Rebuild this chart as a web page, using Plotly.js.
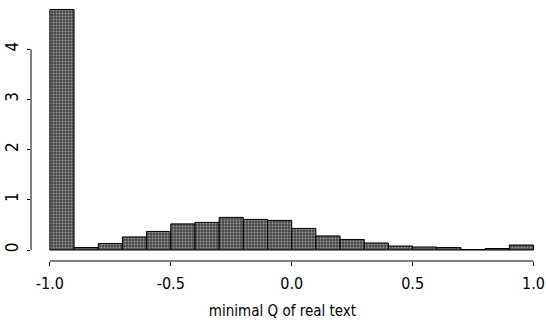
<!DOCTYPE html>
<html>
<head>
<meta charset="utf-8">
<script src="https://cdn.plot.ly/plotly-3.0.1.min.js"></script>
<style>html,body{margin:0;padding:0;background:#fff;}#chart{width:546px;height:322px;}</style>
</head>
<body>
<div id="chart"></div>
<script>
// Histogram bins of "minimal Q of real text" (bin width 0.1)
const binStarts = [-1.0,-0.9,-0.8,-0.7,-0.6,-0.5,-0.4,-0.3,-0.2,-0.1,0.0,0.1,0.2,0.3,0.4,0.5,0.6,0.7,0.8,0.9];
const density  = [4.79,0.05,0.13,0.26,0.37,0.52,0.55,0.65,0.61,0.59,0.43,0.28,0.21,0.14,0.08,0.06,0.05,0.01,0.03,0.10];
const binWidth = 0.1;
const xTicks = [-1.0,-0.5,0.0,0.5,1.0];
const xTickText = ['-1.0','-0.5','0.0','0.5','1.0'];
const yTicks = [0,1,2,3,4];
const xTitle = 'minimal Q of real text';

const font = 'DejaVu Sans Condensed, Liberation Sans Narrow, Liberation Sans, Arial, sans-serif';

const trace = {
  type: 'bar',
  x: binStarts.map(b => b + binWidth/2),
  y: density,
  width: binStarts.map(() => binWidth),
  marker: {
    color: '#474747',
    line: {color: '#000', width: 1},
    pattern: {shape: '.', fgcolor: '#9a9a9a', bgcolor: '#474747', size: 3, solidity: 0.35}
  },
  hoverinfo: 'skip'
};

const layout = {
  width: 546, height: 322,
  margin: {l: 31, r: 12, t: 0, b: 61},
  paper_bgcolor: '#fff', plot_bgcolor: '#fff',
  showlegend: false,
  font: {family: font, color: '#000', size: 16},
  xaxis: {
    range: [-1.078, 1.002],
    tickvals: xTicks, ticktext: xTickText,
    ticks: 'outside', ticklen: 4, tickcolor: '#000', tickwidth: 1,
    showline: false, showgrid: false, zeroline: false,
    tickfont: {family: font, size: 16, color: '#000'},
    ticklabelstandoff: 4,
    ticklabeloverflow: 'allow',
    title: {text: xTitle, font: {family: font, size: 15, color: '#000'}, standoff: 13}
  },
  yaxis: {
    range: [-0.219, 4.98],
    tickvals: yTicks,
    ticks: 'outside', ticklen: 3, tickcolor: '#000', tickwidth: 1,
    showline: false, showgrid: false, zeroline: false,
    tickangle: -90,
    tickfont: {family: font, size: 17, color: '#000'},
    ticklabelstandoff: 2,
    ticklabeloverflow: 'allow'
  },
  shapes: [
    {type: 'line', xref: 'paper', yref: 'y', x0: 0, x1: 0, y0: yTicks[0], y1: yTicks[yTicks.length-1], line: {color: '#000', width: 1}},
    {type: 'line', xref: 'x', yref: 'paper', x0: xTicks[0], x1: xTicks[xTicks.length-1], y0: 0, y1: 0, line: {color: '#000', width: 1}}
  ]
};

Plotly.newPlot('chart', [trace], layout, {staticPlot: true, displayModeBar: false});
</script>
</body>
</html>
